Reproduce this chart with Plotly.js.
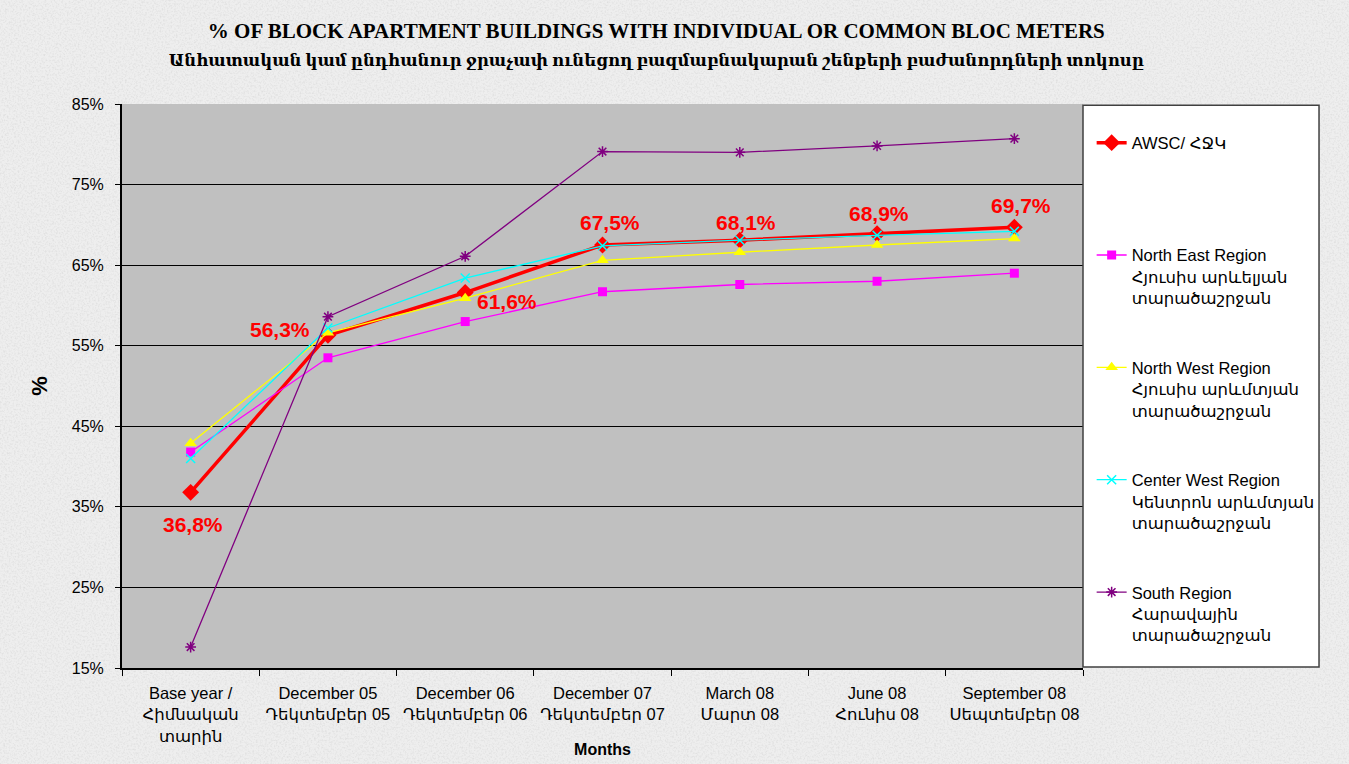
<!DOCTYPE html>
<html>
<head>
<meta charset="utf-8">
<script src="https://cdn.plot.ly/plotly-3.0.1.min.js"></script>
<style>
html,body{margin:0;padding:0;width:1349px;height:764px;overflow:hidden;background:#e9e9e9;}
#bg{position:absolute;left:0;top:0;width:1349px;height:764px;}
#chart{position:absolute;left:0;top:0;width:1349px;height:764px;}
</style>
</head>
<body>
<svg id="bg" width="1349" height="764" xmlns="http://www.w3.org/2000/svg">
  <filter id="n" x="0" y="0" width="100%" height="100%">
    <feTurbulence type="fractalNoise" baseFrequency="0.55" numOctaves="2" seed="3" result="t"/>
    <feColorMatrix type="matrix" values="0 0 0 0 0.55  0 0 0 0 0.55  0 0 0 0 0.55  0 0 0 -2.2 1.25"/>
  </filter>
  <rect width="1349" height="764" fill="#eeeeee"/>
  <rect width="1349" height="764" filter="url(#n)" opacity="0.35"/>
</svg>
<div id="chart"></div>
<script>
// ---- data ----
const categories = [
  "Base year /<br>Հիմնական<br>տարին",
  "December 05<br>Դեկտեմբեր 05",
  "December 06<br>Դեկտեմբեր 06",
  "December 07<br>Դեկտեմբեր 07",
  "March 08<br>Մարտ 08",
  "June 08<br>Հունիս 08",
  "September 08<br>Սեպտեմբեր 08"
];
const awsc      = [36.8, 56.3, 61.6, 67.5, 68.1, 68.9, 69.7];
const northEast = [41.8, 53.5, 58.0, 61.7, 62.6, 63.0, 64.0];
const northWest = [42.9, 56.6, 60.9, 65.6, 66.6, 67.5, 68.3];
const centerWest= [41.0, 57.2, 63.4, 67.4, 68.1, 68.7, 69.2];
const south     = [17.6, 58.6, 66.1, 79.1, 79.0, 79.8, 80.7];
const seriesNames = [
  "AWSC/ ՀՋԿ<br>&nbsp;<br>&nbsp;",
  "North East Region<br>Հյուսիս արևելյան<br>տարածաշրջան",
  "North West Region<br>Հյուսիս արևմտյան<br>տարածաշրջան",
  "Center West Region<br>Կենտրոն արևմտյան<br>տարածաշրջան",
  "South Region<br>Հարավային<br>տարածաշրջան"
];
const yTicks = [15, 25, 35, 45, 55, 65, 75, 85];
const titleLine1 = "% OF BLOCK APARTMENT BUILDINGS WITH INDIVIDUAL OR COMMON BLOC METERS";
const titleLine2 = "Անհատական կամ ընդհանուր ջրաչափ ունեցող բազմաբնակարան շենքերի բաժանորդների տոկոսը";
// label offsets for AWSC data labels (px)
const labelShift = [[2,-32],[-48,6],[42,-9],[7,23],[6,18],[2,20],[7,22]];

const sans = "Arial, 'Liberation Sans', 'DejaVu Sans', sans-serif";
const serif = "Liberation Serif, DejaVu Serif, serif";

function mk(name, y, color, symbol, size, lw, lineOnlySymbol){
  const marker = {symbol: symbol, size: size, color: color};
  if (lineOnlySymbol) marker.line = {color: color, width: 1.5};
  else marker.line = {width: 0};
  return {
    type: 'scatter', mode: 'lines+markers', x: categories, y: y, name: name,
    legendgroup: name, line: {color: color, width: lw}, marker: marker,
    hoverinfo: 'skip'
  };
}

const traces = [
  mk(seriesNames[0], awsc, '#ff0000', 'diamond', 13, 3.5, false),
  mk(seriesNames[1], northEast, '#ff00ff', 'square', 9, 1.3, false),
  mk(seriesNames[2], northWest, '#ffff00', 'triangle-up', 11, 1.3, false),
  mk(seriesNames[3], centerWest, '#00ffff', 'x-thin-open', 9, 1.3, true),
  mk(seriesNames[4], south, '#800080', 'asterisk-open', 9, 1.3, true)
];

const annotations = awsc.map((v, i) => ({
  x: categories[i], y: v, xref: 'x', yref: 'y',
  text: '<b>' + v.toFixed(1).replace('.', ',') + '%</b>',
  showarrow: false, xshift: labelShift[i][0], yshift: labelShift[i][1],
  font: {family: sans, size: 21, color: '#ff0000'}
}));

const layout = {
  width: 1349, height: 764,
  paper_bgcolor: 'rgba(0,0,0,0)', plot_bgcolor: '#c0c0c0',
  margin: {l: 122, r: 266, t: 104, b: 96, pad: 0},
  showlegend: true,
  title: {
    text: '<b><span style="font-size:21px;font-family:Liberation Serif">' + titleLine1 + '</span><br><span style="font-size:16.5px">' + titleLine2 + '</span></b>',
    font: {family: serif, size: 21, color: '#000'},
    x: 0.556, xanchor: 'center', xref: 'paper',
    y: 0.95, yanchor: 'top', yref: 'container'
  },
  xaxis: {
    type: 'category', range: [-0.5, 6.5], fixedrange: true,
    tickson: 'boundaries', ticks: 'outside', ticklen: 6, tickcolor: '#000', tickwidth: 1,
    showline: true, linecolor: '#000', linewidth: 2,
    showgrid: false, zeroline: false, tickangle: 0,
    tickfont: {family: sans, size: 16.5, color: '#000'},
    ticklabelstandoff: 9,
    title: {text: '<b>Months</b>', font: {family: sans, size: 16, color: '#000'}, standoff: 0}
  },
  yaxis: {
    range: [15, 85], tickvals: yTicks, ticktext: yTicks.map(t => t + '%'),
    ticks: 'outside', ticklen: 5, tickcolor: '#000', tickwidth: 1,
    showline: true, linecolor: '#000', linewidth: 2,
    showgrid: true, gridcolor: '#000', gridwidth: 1, zeroline: false,
    tickfont: {family: sans, size: 16, color: '#000'},
    ticklabelstandoff: 8,
    title: {text: '<b>%</b>', font: {family: sans, size: 22, color: '#000'}, standoff: 18}
  },
  legend: {
    x: 1.009, xanchor: 'left', y: 0.962, yanchor: 'top',
    bgcolor: 'rgba(0,0,0,0)', borderwidth: 0,
    font: {family: sans, size: 16.5, color: '#000'},
    valign: 'top', tracegroupgap: 45, traceorder: 'grouped'
  },
  shapes: [{
    type: 'rect', xref: 'paper', yref: 'paper',
    x0: 1.0, x1: 1.2456, y0: 0.0018, y1: 0.998,
    fillcolor: '#ffffff', line: {color: '#404040', width: 1.5}, layer: 'above'
  }],
  annotations: annotations
};

Plotly.newPlot('chart', traces, layout, {staticPlot: true, displayModeBar: false});
</script>
</body>
</html>
